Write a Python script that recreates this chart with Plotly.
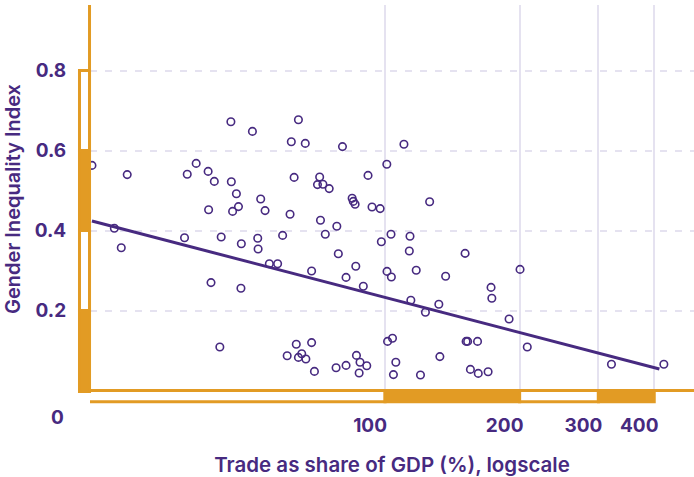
import plotly.graph_objects as go

# Trade as share of GDP (%) and Gender Inequality Index
trade = [22.1, 26.5, 24.8, 25.7, 35.6, 36.1, 37.8, 40.2, 41.5, 40.3,
         40.8, 42.7, 43.0, 45.2, 45.3, 46.5, 47.0, 45.6, 47.7, 47.6,
         50.5, 51.9, 52.0, 52.7, 53.9, 55.1, 57.5, 59.0, 60.4, 61.3,
         61.7, 62.6, 63.3, 64.0, 64.0, 65.1, 66.3, 66.5, 68.5, 68.5,
         69.5, 70.6, 71.4, 71.7, 72.6, 73.5, 75.0, 77.7, 78.0, 78.6,
         80.3, 81.8, 81.8, 84.4, 84.9, 85.7, 86.0, 86.3, 87.5, 87.9,
         89.4, 91.0, 91.6, 93.5, 97.5, 98.1, 100.9, 101.0, 101.3, 103.1,
         103.3, 103.9, 104.4, 105.7, 110.2, 113.3, 113.7, 114.2, 117.4, 120.0,
         123.1, 125.8, 131.9, 132.6, 136.6, 151.0, 151.8, 153.0, 155.2, 161.0,
         161.6, 170.0, 172.6, 173.3, 189.4, 200.4, 208.0, 320.9, 420.3]
gii = [0.563, 0.540, 0.406, 0.357, 0.382, 0.541, 0.568, 0.548, 0.523, 0.452,
       0.270, 0.109, 0.384, 0.672, 0.522, 0.492, 0.460, 0.448, 0.367, 0.256,
       0.648, 0.381, 0.354, 0.479, 0.450, 0.317, 0.317, 0.388, 0.087, 0.441,
       0.622, 0.533, 0.116, 0.677, 0.083, 0.092, 0.618, 0.079, 0.299, 0.120,
       0.048, 0.515, 0.534, 0.426, 0.516, 0.391, 0.505, 0.057, 0.411, 0.342,
       0.610, 0.283, 0.063, 0.481, 0.473, 0.466, 0.311, 0.088, 0.044, 0.071,
       0.261, 0.062, 0.538, 0.459, 0.455, 0.372, 0.566, 0.298, 0.123, 0.391,
       0.284, 0.131, 0.040, 0.071, 0.616, 0.349, 0.386, 0.226, 0.301, 0.039,
       0.196, 0.472, 0.216, 0.085, 0.286, 0.343, 0.123, 0.123, 0.053, 0.123,
       0.043, 0.047, 0.258, 0.231, 0.179, 0.303, 0.109, 0.066, 0.066]

# Fitted trend line end points
trend_x = [22.1, 410.8]
trend_y = [0.424, 0.054]

# Tick values and labels
x_ticks = [100, 200, 300, 400]
x_tick_labels = ["100", "200", "300", "400"]
y_ticks = [0.2, 0.4, 0.6, 0.8]
y_tick_labels = ["0.2", "0.4", "0.6", "0.8"]

# Marginal bin bands (edges, filled?)
x_bins = [(20, 100, False), (100, 200, True), (200, 300, False), (300, 400, True)]
y_bins = [(-0.006, 0.2, True), (0.2, 0.4, False), (0.4, 0.6, True), (0.6, 0.8, False)]

PURPLE = "#472A80"
ORANGE = "#E29B24"
GRID = "#E5E2F0"
FONT = "Inter"

fig = go.Figure()
fig.add_trace(go.Scatter(
    x=trade, y=gii, mode="markers",
    marker=dict(symbol="circle-open", size=7.5, color=PURPLE, line=dict(width=1.6, color=PURPLE)),
    showlegend=False, hoverinfo="x+y"))
fig.add_trace(go.Scatter(
    x=trend_x, y=trend_y, mode="lines",
    line=dict(color=PURPLE, width=3), showlegend=False, hoverinfo="skip"))

shapes = []
# x marginal strip
for a, b, filled in x_bins:
    shapes.append(dict(type="rect", xref="x", yref="paper", x0=a, x1=b,
                       y0=-0.0225, y1=0.0065,
                       fillcolor=ORANGE if filled else "white",
                       line=dict(color=ORANGE, width=3), layer="above"))
# y marginal strip
for a, b, filled in y_bins:
    shapes.append(dict(type="rect", xref="paper", yref="y", x0=-0.0174, x1=-0.0008,
                       y0=a, y1=b,
                       fillcolor=ORANGE if filled else "white",
                       line=dict(color=ORANGE, width=3), layer="above"))
# axis lines
shapes.append(dict(type="line", xref="paper", yref="paper", x0=-0.0008, x1=-0.0008,
                   y0=0.0, y1=1.0, line=dict(color=ORANGE, width=3), layer="above"))
shapes.append(dict(type="line", xref="paper", yref="y", x0=-0.003, x1=1.0,
                   y0=0.0, y1=0.0, line=dict(color=ORANGE, width=3), layer="above"))

fig.update_layout(
    width=694, height=477,
    margin=dict(l=90, r=0, t=5, b=84),
    paper_bgcolor="white", plot_bgcolor="white",
    font=dict(family=FONT, color=PURPLE),
    shapes=shapes,
    xaxis=dict(
        type="log", range=[1.340, 2.691], automargin=False,
        tickvals=x_ticks, ticktext=x_tick_labels,
        showgrid=True, gridcolor=GRID, gridwidth=2,
        zeroline=False, showline=False,
        ticks="outside", ticklen=15, tickcolor="rgba(0,0,0,0)",
        ticklabelshift=-15,
        tickfont=dict(family=FONT, size=19, color=PURPLE, weight=700),
        title=dict(text="Trade as share of GDP (%), logscale", standoff=22,
                   font=dict(family=FONT, size=20.5, color=PURPLE, weight=600)),
    ),
    yaxis=dict(
        range=[-0.006, 0.964], automargin=False,
        tickvals=y_ticks, ticktext=y_tick_labels,
        showgrid=True, gridcolor=GRID, gridwidth=2, griddash="7px,8px",
        zeroline=False, showline=False,
        ticks="outside", ticklen=19, tickcolor="rgba(0,0,0,0)",
        tickfont=dict(family=FONT, size=19, color=PURPLE, weight=700),
        title=dict(text="Gender Inequality Index", standoff=8,
                   font=dict(family=FONT, size=20, color=PURPLE, weight=600)),
    ),
    annotations=[dict(text="0", xref="paper", yref="paper", x=-0.0546, y=-0.0644,
                      showarrow=False, xanchor="center", yanchor="middle",
                      font=dict(family=FONT, size=19, color=PURPLE, weight=700))],
)

fig.write_html("out.html", config={"displayModeBar": False},
               post_script="document.body.style.margin='0';")
